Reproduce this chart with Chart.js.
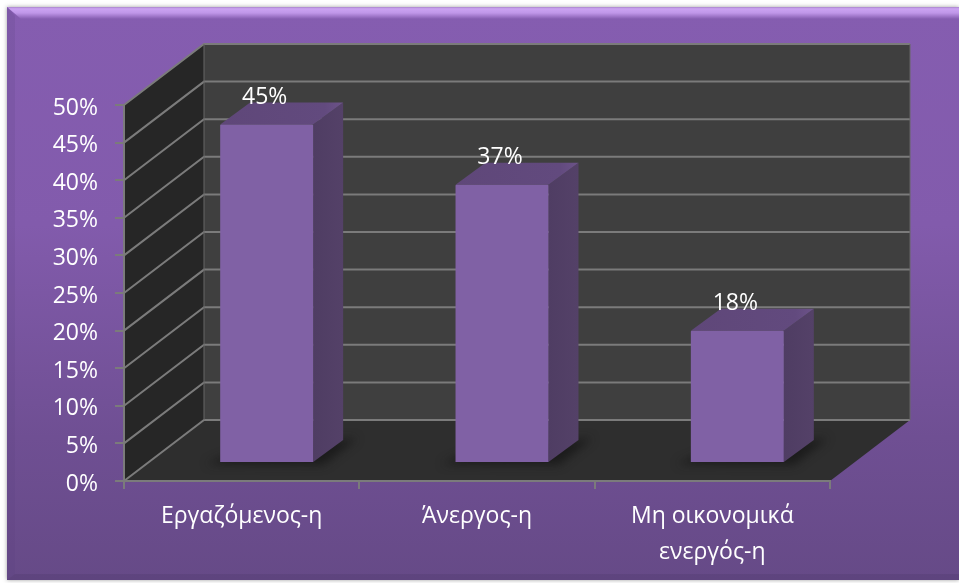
<!DOCTYPE html>
<html><head><meta charset="utf-8">
<style>html,body{margin:0;padding:0;background:#fff}canvas{display:block}</style>
<script src="https://cdn.jsdelivr.net/npm/chart.js@4"></script>
</head><body>
<canvas id="c" width="959" height="583"></canvas>
<script>
const categories = ["Εργαζόμενος-η", "Άνεργος-η", ["Μη οικονομικά", "ενεργός-η"]];
const shares = [45, 37, 17.6];
const valueLabels = ["45%", "37%", "18%"];
const axisMax = 50, axisStep = 5;
const FONT = '"Open Sans", "Noto Sans", sans-serif';
const TEXT_SIZE = 23;
const DEPTH = {x: 80, y: -61};
const BAR_SHIFT = {x: 25, y: -18};
const BAR_DEPTH = {x: 30, y: -22};

function poly(ctx, pts, fill) {
  ctx.beginPath();
  pts.forEach((p, i) => i ? ctx.lineTo(p[0], p[1]) : ctx.moveTo(p[0], p[1]));
  ctx.closePath();
  ctx.fillStyle = fill;
  ctx.fill();
}
const scene = {
  id: 'scene',
  beforeDraw(chart) {
    const {ctx, scales: {x, y}, width, height} = chart;
    const L = x.left, R = x.right, B = y.getPixelForValue(0), T = y.getPixelForValue(axisMax);
    const dx = DEPTH.x, dy = DEPTH.y;
    ctx.save();
    // outer panel
    const fl = 7, ft = 7, fb = 580;
    ctx.shadowColor = 'rgba(60,60,60,0.5)'; ctx.shadowBlur = 4;
    ctx.fillStyle = '#7a5aa0'; ctx.fillRect(fl, ft, width - fl, fb - ft);
    ctx.shadowColor = 'transparent'; ctx.shadowBlur = 0;
    const g = ctx.createLinearGradient(0, ft, 0, fb);
    g.addColorStop(0, '#855db0'); g.addColorStop(0.38, '#825bac'); g.addColorStop(0.75, '#6f4f93'); g.addColorStop(1, '#664a87');
    ctx.fillStyle = g; ctx.fillRect(fl, ft, width - fl, fb - ft);
    // bevels
    const tb = ctx.createLinearGradient(0, ft, 0, ft + 12);
    tb.addColorStop(0, '#a985cc'); tb.addColorStop(0.15, '#cba3f2'); tb.addColorStop(0.5, '#bf96e8'); tb.addColorStop(1, '#855db0');
    poly(ctx, [[fl, ft], [width, ft], [width, ft + 12], [fl + 14, ft + 12]], tb);
    poly(ctx, [[fl, ft], [fl + 8, ft + 9], [fl + 8, fb - 6], [fl, fb]], 'rgba(90,60,125,0.16)');
    poly(ctx, [[fl, fb], [fl + 8, fb - 6], [width, fb - 6], [width, fb]], 'rgba(70,50,95,0.22)');
    // walls
    poly(ctx, [[L, T], [L + dx, T + dy], [L + dx, B + dy], [L, B]], '#262626');
    poly(ctx, [[L + dx, T + dy], [R + dx, T + dy], [R + dx, B + dy], [L + dx, B + dy]], '#3f3f3f');
    poly(ctx, [[L, B], [L + dx, B + dy], [R + dx, B + dy], [R, B]], '#2e2e2e');
    // grid on walls
    ctx.strokeStyle = '#7b7b7b'; ctx.lineWidth = 2;
    y.ticks.forEach(t => {
      const p = y.getPixelForValue(t.value);
      ctx.beginPath();
      ctx.moveTo(L, p); ctx.lineTo(L + dx, p + dy); ctx.lineTo(R + dx, p + dy);
      ctx.stroke();
    });
    ctx.beginPath();
    ctx.moveTo(L + dx, T + dy); ctx.lineTo(L + dx, B + dy);
    ctx.moveTo(R + dx, T + dy); ctx.lineTo(R + dx, B + dy);
    ctx.strokeStyle = '#666'; ctx.lineWidth = 1; ctx.stroke();
    ctx.restore();
  },
  beforeDatasetDraw(chart, args) {
    const {ctx} = chart;
    const meta = chart.getDatasetMeta(args.index);
    const sx = BAR_SHIFT.x, sy = BAR_SHIFT.y, bx = BAR_DEPTH.x, by = BAR_DEPTH.y;
    meta.data.forEach(el => {
      const {x, y, width, base} = el.getProps(['x', 'y', 'width', 'base'], true);
      const l = x - width / 2 + sx, r = x + width / 2 + sx, t = y + sy, b = base + sy;
      // floor shadow
      ctx.save();
      ctx.filter = 'blur(5px)';
      poly(ctx, [[l - 14, b + 2], [l + 15, b - 10], [r + bx + 14, b + by - 2], [r + 10, b + 3]], 'rgba(15,15,15,0.6)');
      ctx.restore();
      // side face
      const side = ctx.createLinearGradient(r, 0, r + bx, 0);
      side.addColorStop(0, '#4f3d63'); side.addColorStop(1, '#544168');
      poly(ctx, [[r, t], [r + bx, t + by], [r + bx, b + by], [r, b]], side);
      // top face
      const top = ctx.createLinearGradient(l, 0, r + bx, 0);
      top.addColorStop(0, '#5f4779'); top.addColorStop(0.85, '#624a7e'); top.addColorStop(1, '#6c5389');
      poly(ctx, [[l, t], [l + bx, t + by], [r + bx, t + by], [r, t]], top);
    });
    ctx.save();
    ctx.translate(sx, sy);
  },
  afterDatasetDraw(chart) {
    chart.ctx.restore();
  },
  afterDatasetsDraw(chart) {
    const {ctx} = chart;
    const meta = chart.getDatasetMeta(0);
    ctx.save();
    ctx.font = TEXT_SIZE + 'px ' + FONT;
    ctx.fillStyle = '#ffffff';
    ctx.textAlign = 'center';
    ctx.textBaseline = 'middle';
    meta.data.forEach((el, i) => {
      const p = el.getProps(['x', 'y'], true);
      ctx.fillText(valueLabels[i], p.x + BAR_SHIFT.x - 2, p.y + BAR_SHIFT.y - 27);
    });
    ctx.restore();
  }
};

new Chart(document.getElementById('c'), {
  type: 'bar',
  data: {
    labels: categories,
    datasets: [{
      data: shares,
      backgroundColor: '#8061a5',
      borderWidth: 0,
      borderRadius: 1,
      barPercentage: 0.395,
      categoryPercentage: 1
    }]
  },
  plugins: [scene],
  options: {
    responsive: false,
    animation: false,
    layout: {padding: {left: 0, right: 129, top: 105, bottom: 0}},
    plugins: {legend: {display: false}, title: {display: false}, tooltip: {enabled: false}},
    scales: {
      x: {
        afterFit(s) { s.height = 102; },
        grid: {drawOnChartArea: false, color: '#7b7b7b', lineWidth: 2, tickLength: 8, tickColor: '#7b7b7b'},
        border: {color: '#7b7b7b', width: 2},
        ticks: {color: '#fff', font: {family: FONT, size: TEXT_SIZE, lineHeight: 1.57}, padding: 9, maxRotation: 0, autoSkip: false}
      },
      y: {
        min: 0, max: axisMax,
        afterFit(s) { s.width = 124; },
        grid: {drawOnChartArea: false, color: '#7b7b7b', lineWidth: 2, tickLength: 9, tickColor: '#7b7b7b'},
        border: {color: '#7b7b7b', width: 2},
        ticks: {stepSize: axisStep, color: '#fff', font: {family: FONT, size: TEXT_SIZE}, padding: 17, labelOffset: 3, callback: v => v + '%'}
      }
    }
  }
});
</script>
</body></html>
